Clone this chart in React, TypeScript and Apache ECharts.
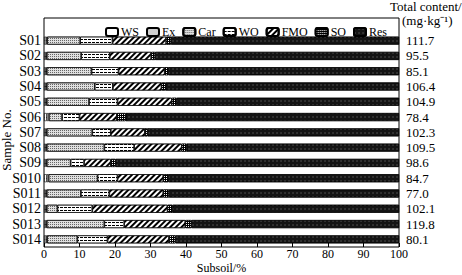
import React, { useEffect, useRef } from "react";
import * as echarts from "echarts";

const samples = ["S01", "S02", "S03", "S04", "S05", "S06", "S07", "S08", "S09", "S010", "S011", "S012", "S013", "S014"];
const totals = ["111.7", "95.5", "85.1", "106.4", "104.9", "78.4", "102.3", "109.5", "98.6", "84.7", "77.0", "102.1", "119.8", "80.1"];
const WS = [0.6, 0.5, 0.5, 0.5, 0.5, 0.8, 0.5, 0.5, 0.5, 0.8, 0.5, 0.5, 0.5, 0.6];
const Ex = [0.3, 0.3, 0.3, 0.3, 0.3, 0.6, 0.3, 0.3, 0.3, 0.5, 0.3, 0.3, 0.3, 0.3];
const Car = [9.3, 9.7, 12.6, 13.5, 11.9, 3.7, 12.8, 16.2, 6.7, 13.8, 9.6, 3.0, 16.2, 8.5];
const WO = [9.1, 8.0, 7.6, 5.1, 8.0, 4.9, 5.2, 8.4, 3.8, 5.6, 8.0, 9.8, 5.6, 8.5];
const FMO = [15.1, 11.7, 13.0, 13.7, 15.3, 10.5, 9.6, 13.4, 7.5, 12.9, 15.2, 21.2, 17.2, 17.3];
const SO = [1.4, 1.1, 1.0, 1.2, 1.4, 2.5, 0.8, 1.4, 1.4, 1.4, 1.6, 1.4, 1.7, 1.8];
const Res = [64.2, 68.7, 65.0, 65.7, 62.6, 77.0, 70.8, 59.8, 79.8, 65.0, 64.8, 63.8, 58.5, 63.0];
const xTicks = { min: 0, max: 100, interval: 10 };

const FONT = "'Liberation Serif', 'Times New Roman', serif";

export default function App() {
  const ref = useRef<HTMLDivElement>(null);
  useEffect(() => {
    if (!ref.current) return;
    const chart = echarts.init(ref.current, null, { renderer: "svg" });
    const border = { borderColor: "#000", borderWidth: 0.6 };
    const mk = (name: string, data: number[], color: string, decal?: any) => ({
      name,
      type: "bar",
      stack: "total",
      data,
      barWidth: 8,
      itemStyle: { color, ...border, ...(decal ? { decal } : {}) },
    });
    const series = [
      mk("WS", WS, "#ffffff"),
      mk("Ex", Ex, "#d0d0d0"),
      mk("Car", Car, "#e0e0e0", { symbol: "rect", symbolSize: 1, color: "#666", dashArrayX: [1, 1], dashArrayY: [1, 1] }),
      mk("WO", WO, "#ffffff", { symbol: "rect", symbolSize: 1, color: "#000", dashArrayX: [[3, 1]], dashArrayY: [1, 1.5] }),
      mk("FMO", FMO, "#ffffff", { symbol: "rect", symbolSize: 1, color: "#000", dashArrayX: [1, 0], dashArrayY: [1.2, 1.3], rotation: -Math.PI / 4 }),
      mk("SO", SO, "#000000", { symbol: "rect", symbolSize: 1, color: "#fff", dashArrayX: [1, 1], dashArrayY: [1, 1] }),
      mk("Res", Res, "#141414", { symbol: "circle", symbolSize: 0.6, color: "#666", dashArrayX: [2, 2], dashArrayY: [2, 2] }),
    ];
    const txt = { fontFamily: FONT, fontSize: 13, color: "#000" };
    chart.setOption({
      animation: false,
      textStyle: { fontFamily: FONT },
      grid: { left: 44, right: 63, top: 33, bottom: 28, containLabel: false, outerBoundsMode: "none" },
      legend: {
        right: 70,
        top: 21,
        itemWidth: 12,
        itemHeight: 8,
        itemGap: 7,
        textStyle: { ...txt, fontSize: 12, padding: [0, 0, 0, -2] },
        data: ["WS", "Ex", "Car", "WO", "FMO", "SO", "Res"],
      },
      xAxis: {
        type: "value",
        ...xTicks,
        name: "Subsoil/%",
        nameLocation: "middle",
        nameGap: 15,
        nameMoveOverlap: false,
        nameTextStyle: { ...txt, fontSize: 12 },
        axisLine: { show: false },
        axisTick: { show: true, inside: true, length: 4, lineStyle: { color: "#000" } },
        axisLabel: { ...txt, fontSize: 12, margin: 1 },
        splitLine: { show: false },
      },
      yAxis: [
        {
          type: "category",
          data: samples,
          inverse: true,
          name: "Sample No.",
          nameLocation: "middle",
          nameGap: 31,
          nameMoveOverlap: false,
          nameRotate: 90,
          nameTextStyle: { ...txt, fontSize: 13 },
          axisLine: { show: false },
          axisTick: { show: true, inside: true, length: 3, alignWithLabel: true, interval: 0, lineStyle: { color: "#000" } },
          axisLabel: { ...txt, fontSize: 14, margin: 3, interval: 0 },
        },
        {
          type: "category",
          data: totals,
          inverse: true,
          position: "right",
          axisLine: { show: false },
          axisTick: { show: false },
          axisLabel: { ...txt, margin: 7, align: "left", interval: 0 },
        },
      ],
      graphic: [
        { type: "rect", shape: { x: 44, y: 18, width: 355, height: 229 }, style: { fill: "none", stroke: "#000", lineWidth: 1 }, silent: true, z: 100 },
        { type: "text", left: 390, top: 0, style: { text: "Total content/", font: `13px ${FONT}`, fill: "#000" } },
        { type: "text", left: 402, top: 14, style: { text: "(mg·kg⁻¹)", font: `13px ${FONT}`, fill: "#000" } },
      ],
      series,
    });
    return () => chart.dispose();
  }, []);
  return <div ref={ref} style={{ position: "absolute", left: 0, top: 0, width: 462, height: 275 }} />;
}
